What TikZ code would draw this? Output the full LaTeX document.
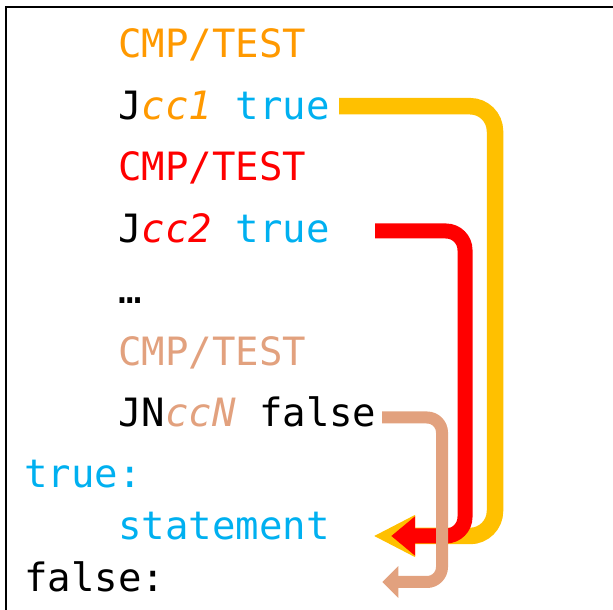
\documentclass[tikz,border=0pt]{standalone}
\usepackage{fontspec}
\newfontfamily\codefont{DejaVu Sans Mono}
\usetikzlibrary{arrows.meta}
\definecolor{cmporange}{RGB}{255,153,0}
\definecolor{jmpyellow}{RGB}{255,192,0}
\definecolor{labelblue}{RGB}{0,176,240}
\definecolor{tan}{RGB}{226,161,126}

\begin{document}
\begin{tikzpicture}[x=1pt,y=1pt,
    code/.style={anchor=base west, inner sep=0pt,
      font=\codefont\fontsize{39}{39}\selectfont}]
  \useasboundingbox (0,0) rectangle (613,610);
  \clip (0,0) rectangle (613,610);
  \draw[line width=2pt] (5.5,-5) -- (5.5,602.5) -- (620,602.5);

  \node (cmp1) [code, cmporange] at (118,552) {CMP/TEST};
  \node (j1) [code] at (118,490.5) {J\textcolor{cmporange}{\itshape cc1} \textcolor{labelblue}{true}};
  \node (cmp2) [code, red] at (118,429) {CMP/TEST};
  \node (j2) [code] at (118,367.5) {J\textcolor{red}{\itshape cc2} \textcolor{labelblue}{true}};
  \node (dots) [code] at (118,306) {…};
  \node (cmpn) [code, tan] at (118,244.5) {CMP/TEST};
  \node (jn) [code] at (118,183) {JN\textcolor{tan}{\itshape ccN} false};
  \node (ltrue) [code, labelblue] at (24,122) {true:};
  \node (stmt) [code, labelblue] at (118,70) {statement};
  \node (lfalse) [code] at (24,18) {false:};

  \coordinate (ycol) at (495,0);
  \coordinate (rcol) at (465,0);
  \coordinate (tcol) at (442,0);
  \coordinate (ytip) at ([xshift=43.5pt,yshift=4pt]stmt.base east);
  \coordinate (rtip) at ([xshift=61.5pt,yshift=4pt]stmt.base east);
  \coordinate (ttip) at ([xshift=217pt,yshift=10pt]lfalse.base east);

  % jumps
  \draw [jmpyellow, line width=16.5pt, rounded corners=25pt, -{Triangle[length=42pt,width=39pt]}]
    ([xshift=9.5pt,yshift=13.3pt]j1.base east) -| (ytip -| ycol) -- (ytip);
  \draw [red, line width=15pt, rounded corners=19pt, -{Triangle[length=24pt,width=38pt]}]
    ([xshift=45.5pt,yshift=11.5pt]j2.base east) -| (rtip -| rcol) -- (rtip);
  \draw [tan, line width=12pt, rounded corners=15pt, -{Triangle[length=16pt,width=31pt]}]
    ([xshift=5.5pt,yshift=9.5pt]jn.base east) -| (ttip -| tcol) -- (ttip);
\end{tikzpicture}
\end{document}
